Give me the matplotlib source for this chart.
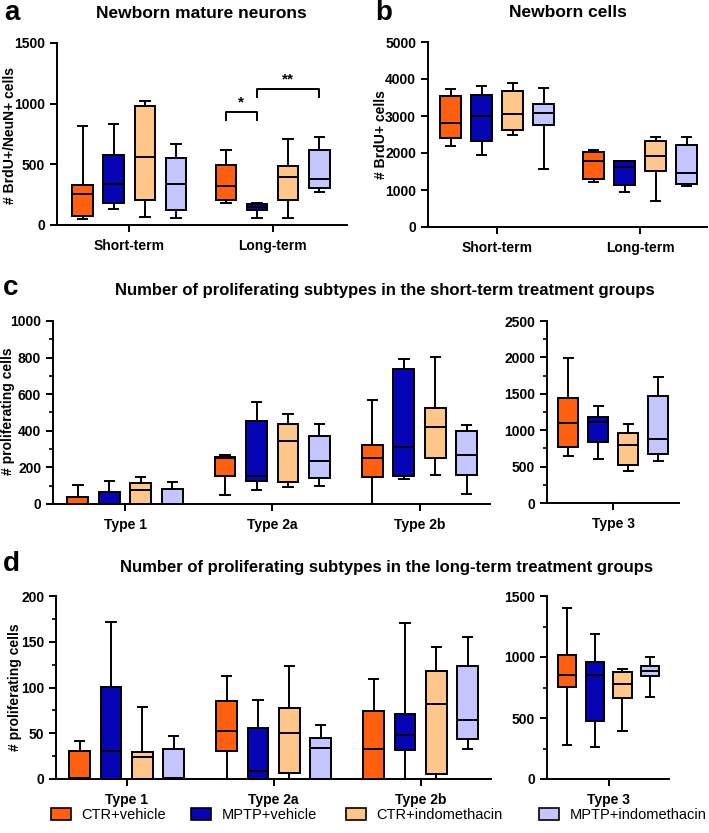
import matplotlib
matplotlib.use("Agg")
import matplotlib.pyplot as plt
from matplotlib.patches import Patch
from matplotlib.ticker import MultipleLocator

plt.rcParams['font.family'] = ['Liberation Sans', 'DejaVu Sans']
plt.rcParams['font.weight'] = 'bold'

W, H = 709, 833

groups = ["CTR+vehicle", "MPTP+vehicle", "CTR+indomethacin", "MPTP+indomethacin"]
colors = ["#FF6010", "#0505B5", "#FFC68A", "#C4C4FF"]

# every box: (min, q1, median, q3, max)
a_labels = ["Short-term", "Long-term"]
a_boxes = [
    [(46, 76, 254, 331, 820), (131, 183, 336, 574, 836),
     (68, 208, 557, 981, 1024), (60, 120, 336, 555, 667)],
    [(183, 205, 322, 497, 620), (57, 120, 145, 175, 183),
     (55, 205, 399, 484, 708), (268, 309, 383, 615, 724)],
]

b_labels = ["Short-term", "Long-term"]
b_boxes = [
    [(2197, 2414, 2803, 3535, 3734), (1944, 2324, 2993, 3581, 3798),
     (2496, 2622, 3047, 3671, 3897), (1573, 2758, 3092, 3337, 3762)],
    [(1203, 1284, 1781, 2016, 2071), (940, 1139, 1628, 1790, 1790),
     (714, 1510, 1917, 2315, 2432), (1112, 1166, 1456, 2206, 2423)],
]

c_labels = ["Type 1", "Type 2a", "Type 2b"]
c_boxes = [
    [(0, 0, 1, 40, 102), (0, 0, 1, 64, 124),
     (0, 0, 76, 113, 149), (0, 0, 1, 84, 118)],
    [(51, 151, 251, 256, 267), (78, 124, 151, 455, 556),
     (91, 118, 344, 436, 494), (100, 144, 233, 369, 438)],
    [(0, 149, 253, 324, 571), (136, 155, 311, 738, 791),
     (160, 251, 420, 527, 804), (56, 157, 268, 399, 430)],
]
c3_labels = ["Type 3"]
c3_boxes = [
    [(640, 772, 1101, 1440, 1997), (608, 841, 1106, 1184, 1334),
     (443, 516, 791, 960, 1079), (571, 672, 873, 1476, 1732)],
]

d_labels = ["Type 1", "Type 2a", "Type 2b"]
d_boxes = [
    [(0, 0, 1, 31, 42), (0, 0, 31, 101, 172),
     (0, 0, 24, 30, 79), (0, 0, 1, 33, 47)],
    [(0, 31, 52, 85, 113), (0, 0, 9, 56, 86),
     (0, 7, 50, 78, 123), (0, 0, 34, 45, 59)],
    [(0, 0, 33, 74, 109), (0, 32, 48, 71, 171),
     (0, 6, 82, 118, 144), (33, 44, 65, 124, 155)],
]
d3_labels = ["Type 3"]
d3_boxes = [
    [(275, 757, 852, 1013, 1405), (259, 479, 849, 958, 1187),
     (395, 667, 776, 879, 901), (675, 844, 887, 923, 999)],
]


def px_rect(x0, ytop, x1, ybot):
    return [x0 / W, 1 - ybot / H, (x1 - x0) / W, (ybot - ytop) / H]


def draw_boxes(ax, boxes, labels, sep, xlim, ymax, major, minor=None):
    centers = []
    for g, grp in enumerate(boxes):
        c = g * sep
        centers.append(c)
        for i, (lo, q1, med, q3, hi) in enumerate(grp):
            st = dict(whislo=lo, q1=q1, med=med, q3=q3, whishi=hi, fliers=[])
            res = ax.bxp([st], positions=[c + i - 1.5], widths=0.66,
                         capwidths=0.3, patch_artist=True, showfliers=False,
                         boxprops=dict(facecolor=colors[i], edgecolor='black', linewidth=1.4),
                         medianprops=dict(color='black', linewidth=1.4),
                         whiskerprops=dict(color='black', linewidth=1.4),
                         capprops=dict(color='black', linewidth=1.4),
                         manage_ticks=False)
            for k in res:
                for art in res[k]:
                    art.set_clip_on(False)
    ax.set_xlim(*xlim)
    ax.set_ylim(0, ymax)
    ax.set_xticks(centers)
    ax.set_xticklabels(labels)
    ax.yaxis.set_major_locator(MultipleLocator(major))
    if minor:
        ax.yaxis.set_minor_locator(MultipleLocator(minor))
    for s in ['top', 'right']:
        ax.spines[s].set_visible(False)
    for s in ['left', 'bottom']:
        ax.spines[s].set_linewidth(1.4)
    ax.tick_params(which='major', length=5, width=1.4, labelsize=10)
    ax.tick_params(which='minor', length=3, width=1.2)
    ax.tick_params(axis='x', pad=5)


fig = plt.figure(figsize=(W / 100, H / 100), dpi=100)

# a
ax_a = fig.add_axes(px_rect(57, 43, 347, 225))
draw_boxes(ax_a, a_boxes, a_labels, 4.6, (-2.32, 6.99), 1500, 500)
sig = [(4.6 - 1.5, 4.6 - 0.5, 934, 863, '*'), (4.6 - 0.5, 4.6 + 1.5, 1120, 1055, '**')]
for x0, x1, y, yd, s in sig:
    ax_a.plot([x0, x0, x1, x1], [yd, y, y, yd], color='black', lw=1.4)
    ax_a.text((x0 + x1) / 2, y + 20, s, ha='center', va='bottom', fontsize=11)

# b
ax_b = fig.add_axes(px_rect(428, 42, 707, 227))
draw_boxes(ax_b, b_boxes, b_labels, 4.61, (-2.23, 6.77), 5000, 1000)

# c
ax_c = fig.add_axes(px_rect(53, 321, 490, 504))
draw_boxes(ax_c, c_boxes, c_labels, 4.68, (-2.29, 11.6), 1000, 200, 100)
ax_c3 = fig.add_axes(px_rect(547, 321, 679, 503))
draw_boxes(ax_c3, c3_boxes, c3_labels, 0, (-2.2, 2.2), 2500, 500, 250)

# d
ax_d = fig.add_axes(px_rect(56, 596, 491, 779))
draw_boxes(ax_d, d_boxes, d_labels, 4.68, (-2.25, 11.6), 200, 50, 25)
ax_d3 = fig.add_axes(px_rect(547, 596, 669, 779))
draw_boxes(ax_d3, d3_boxes, d3_labels, 0, (-2.22, 2.18), 1500, 500, 250)

# letters and titles
for x, y, s in [(4, 20, 'a'), (375, 20, 'b'), (3, 295, 'c'), (3, 571, 'd')]:
    fig.text(x / W, 1 - y / H, s, fontsize=20, va='baseline', ha='left')
for x, y, s, fs in [(201, 18, 'Newborn mature neurons', 12.5), (568, 17, 'Newborn cells', 12.5),
                    (385, 295, 'Number of proliferating subtypes in the short-term treatment groups', 12),
                    (386, 572, 'Number of proliferating subtypes in the long-term treatment groups', 12)]:
    fig.text(x / W, 1 - y / H, s, fontsize=fs, va='baseline', ha='center')

for x, y, s in [(10, 136, '# BrdU+/NeuN+ cells'), (381, 135, '# BrdU+ cells'),
                (8, 411, '# proliferating cells'), (15, 687, '# proliferating cells')]:
    fig.text(x / W, 1 - y / H, s, fontsize=10, rotation=90, ha='center', va='center')

# legend: one entry per box colour, placed where each sits in the reference
leg_x = [51, 191, 346, 539]
for x, c, g in zip(leg_x, colors, groups):
    lg = fig.legend([Patch(facecolor=c, edgecolor='black', linewidth=1.2)], [g],
                    loc='center left', bbox_to_anchor=(x / W, 1 - 815 / H),
                    frameon=False, borderpad=0, borderaxespad=0,
                    prop=dict(family='Liberation Sans', weight='normal', size=10.5),
                    handlelength=1.4, handleheight=0.9, handletextpad=0.7)

fig.savefig("out.png", dpi=100)
